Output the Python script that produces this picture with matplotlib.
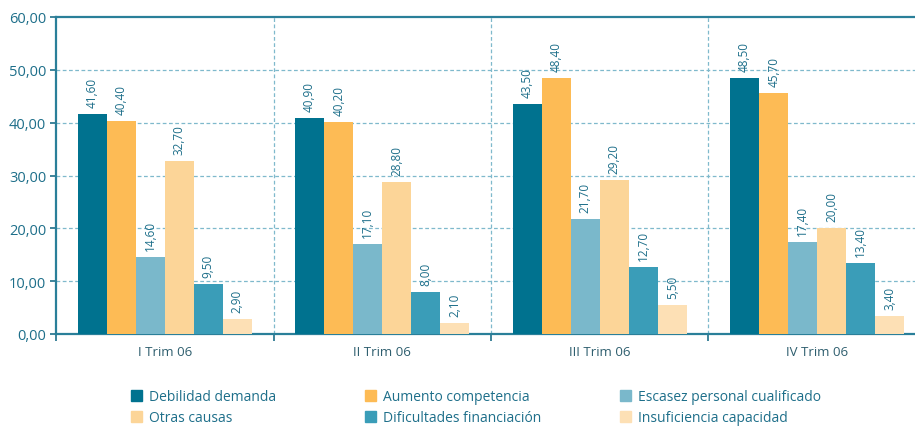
import numpy as np
import matplotlib.pyplot as plt
from matplotlib.patches import Patch

# Data
trimestres = ["I Trim 06", "II Trim 06", "III Trim 06", "IV Trim 06"]
causas = ["Debilidad demanda", "Aumento competencia", "Escasez personal cualificado",
          "Otras causas", "Dificultades financiación", "Insuficiencia capacidad"]
debilidad = [41.6, 40.9, 43.5, 48.5]
aumento = [40.4, 40.2, 48.4, 45.7]
escasez = [14.6, 17.1, 21.7, 17.4]
otras = [32.7, 28.8, 29.2, 20.0]
dificultades = [9.5, 8.0, 12.7, 13.4]
insuficiencia = [2.9, 2.1, 5.5, 3.4]

series = [debilidad, aumento, escasez, otras, dificultades, insuficiencia]
colores = ["#00728F", "#FDBB55", "#7AB8CB", "#FCD598", "#3A9DB8", "#FDE0B5"]
txt = "#1E6F8A"
grid_c = "#7FB9CC"

plt.rcParams['font.family'] = ['Open Sans', 'DejaVu Sans']

fig = plt.figure(figsize=(9.15, 4.27), dpi=100)
ax = fig.add_axes([56/915, 1-335/427, 870/915, (335-18)/427])

w = 0.1335
x0 = np.arange(4) + 0.5 - 3*w
for i, (vals, c) in enumerate(zip(series, colores)):
    xs = x0 + (i + 0.5)*w
    ax.bar(xs, vals, width=w, color=c, zorder=3, linewidth=0)
    for xv, v in zip(xs, vals):
        ax.text(xv, v + 1.3, f"{v:.2f}".replace(".", ","), rotation=90,
                ha="center", va="bottom", fontsize=8.5, color=txt, zorder=4)

ax.set_xlim(0, 4)
ax.set_ylim(0, 60)
ax.set_yticks(np.arange(0, 61, 10))
ax.set_yticklabels([f"{v:.2f}".replace(".", ",") for v in np.arange(0, 61, 10)],
                   fontsize=10.5, color=txt)
ax.set_xticks([0, 1, 2, 3, 4])
ax.set_xticklabels([])
ax.set_xticks([0.5, 1.5, 2.5, 3.5], minor=True)
ax.set_xticklabels(trimestres, minor=True, fontsize=9.5, color="#2E5E6E")
ax.tick_params(axis="x", which="minor", length=0, pad=8)
ax.tick_params(axis="x", which="major", length=5, color=txt, width=1.2)
ax.tick_params(axis="y", length=4, color=txt, width=1.2, pad=3)

for y in range(10, 60, 10):
    ax.axhline(y, color=grid_c, ls=(0, (3, 2)), lw=0.9, zorder=1)
for xv in [1, 2, 3]:
    ax.axvline(xv, color=grid_c, ls=(0, (3, 2)), lw=0.9, zorder=1)

for s in ["left", "top", "bottom"]:
    ax.spines[s].set_color("#2A7F99")
    ax.spines[s].set_linewidth(1.6)
ax.spines["right"].set_visible(False)

# legend: three columns placed separately
handles = [Patch(color=c) for c in colores]
col_x = [131, 365, 620]
for j in range(3):
    idx = [j, j + 3]
    leg = fig.legend([handles[k] for k in idx], [causas[k] for k in idx],
                     loc="lower left", bbox_to_anchor=(col_x[j]/915, 0.002),
                     frameon=False, fontsize=10, handlelength=0.8, handleheight=0.8,
                     handletextpad=0.5, labelspacing=0.42, borderpad=0.0,
                     borderaxespad=0.0)
    for t in leg.get_texts():
        t.set_color(txt)

fig.savefig("out.png", dpi=100)
